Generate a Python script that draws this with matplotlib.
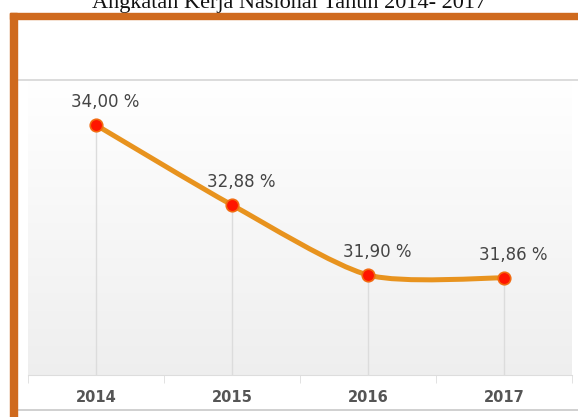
import numpy as np
import matplotlib
matplotlib.use('Agg')
import matplotlib.pyplot as plt
from matplotlib.path import Path
from matplotlib.patches import PathPatch, Rectangle

years = ['2014', '2015', '2016', '2017']
values = [34.00, 32.88, 31.90, 31.86]
labels = ['34,00 %', '32,88 %', '31,90 %', '31,86 %']

fig = plt.figure(figsize=(5.78, 4.17), dpi=100)
fig.patch.set_facecolor('white')

# title, cut by the top edge like in the source picture
fig.text(0.5, 0.981, 'Angkatan Kerja Nasional Tahun 2014- 2017', ha='center', va='baseline',
         fontsize=16, family='Liberation Serif', color='#111111')

# orange frame (top and left)
fig.patches.append(Rectangle((10/578, 0), 7/578, (417-13)/417, transform=fig.transFigure,
                             color='#CF6A1E', zorder=5))
fig.patches.append(Rectangle((10/578, (417-19)/417), 1, 6/417, transform=fig.transFigure,
                             color='#CF6A1E', zorder=5))
# thin gray lines of the chart box
fig.add_artist(plt.Line2D([17/578, 1], [(417-80)/417]*2, color='#d6d6d6', lw=1.2))
fig.add_artist(plt.Line2D([17/578, 1], [(417-410)/417]*2, color='#c8c8c8', lw=1.2))

ax = fig.add_axes([28/578, 42/417, 544/578, 295/417])
x = np.arange(len(values))
ymin, ymax = 30.5, 34.63
ax.set_xlim(-0.5, len(values) - 0.5)
ax.set_ylim(ymin, ymax)

# gradient background
grad = np.linspace(1.0, 0.935, 256).reshape(-1, 1)
ax.imshow(np.dstack([grad, grad, grad]), extent=[-0.5, len(values) - 0.5, ymin, ymax],
          aspect='auto', zorder=0, origin='upper')

# vertical guide lines from each point down
ax.vlines(x, ymin, values, color='#dcdcdc', lw=1, zorder=1)

# smooth line through the points (Catmull-Rom as cubic Bezier)
pts = np.column_stack([x, values]).astype(float)
verts = [tuple(pts[0])]
codes = [Path.MOVETO]
for i in range(len(pts) - 1):
    p0 = pts[i - 1] if i > 0 else pts[i]
    p1, p2 = pts[i], pts[i + 1]
    p3 = pts[i + 2] if i + 2 < len(pts) else pts[i + 1]
    c1 = p1 + (p2 - p0) / 8
    c2 = p2 - (p3 - p1) / 8
    verts += [tuple(c1), tuple(c2), tuple(p2)]
    codes += [Path.CURVE4] * 3
ax.add_patch(PathPatch(Path(verts, codes), fill=False, edgecolor='#E8931E', lw=3.6,
                       capstyle='round', zorder=2))

ax.plot(x, values, 'o', ms=9, color='#FF1500', mec='#F26A10', mew=1.2, zorder=3)

for xi, v, lab in zip(x, values, labels):
    ax.annotate(lab, (xi, v), xytext=(-18, 10), textcoords='offset points',
                ha='left', va='bottom', fontsize=12, color='#444444', zorder=4)

ax.set_xticks(x)
ax.set_xticklabels(years, fontsize=10.5, fontweight='bold', color='#555555')
ax.set_xticks(np.arange(-0.5, len(values)), minor=True)
ax.tick_params(axis='x', which='major', length=0, pad=11)
ax.tick_params(axis='x', which='minor', length=6, color='#dddddd', direction='out')
ax.set_yticks([])
for s in ['top', 'left', 'right']:
    ax.spines[s].set_visible(False)
ax.spines['bottom'].set_color('#dddddd')

fig.savefig('out.png', dpi=100)
